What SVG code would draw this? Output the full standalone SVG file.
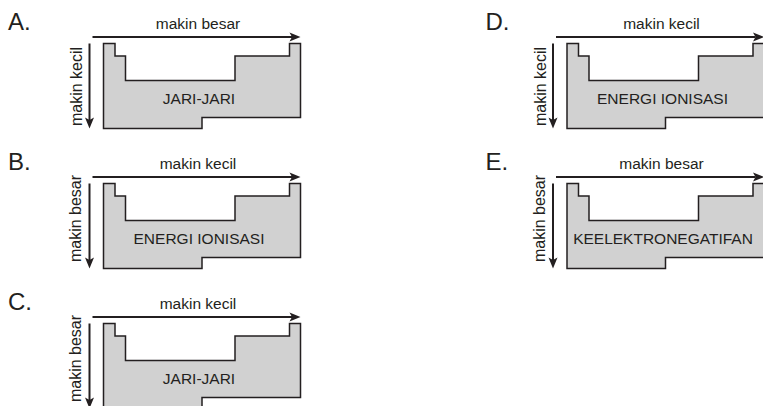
<svg xmlns="http://www.w3.org/2000/svg" xmlns:xlink="http://www.w3.org/1999/xlink" width="763" height="406" viewBox="0 0 763 406">
  <style>
    .table { fill: #d1d1d1; stroke: #231f20; stroke-width: 1.5; stroke-linejoin: miter; }
    .axis { stroke: #231f20; stroke-width: 2; fill: none; }
    .tag { font-family: "Liberation Sans", Arial, sans-serif; font-size: 24px; fill: #231f20; }
    .trend { font-family: "Liberation Sans", Arial, sans-serif; font-size: 15.5px; fill: #231f20; text-anchor: middle; }
    .side { font-family: "Liberation Sans", Arial, sans-serif; font-size: 16px; fill: #231f20; text-anchor: middle; }
    .prop { font-family: "Liberation Sans", Arial, sans-serif; font-size: 15.5px; fill: #231f20; text-anchor: middle; }
  </style>
  <defs>
    <marker id="head" markerUnits="userSpaceOnUse" markerWidth="11" markerHeight="9" refX="2.5" refY="4.5" orient="auto" overflow="visible">
      <path d="M0,0 L11,4.5 L0,9 L2.5,4.5 Z" fill="#231f20"/>
    </marker>
    <!-- outline of the periodic table block -->
    <path id="table" class="table" d="M103.5,43.5 H115 V56 H125.5 V80.5 H235 V56 H289.5 V43.5 H300.5 V117.5 H202 V128.5 H103.5 Z"/>
  </defs>

  <rect width="763" height="406" fill="#ffffff"/>

  <!-- A -->
  <g id="panel-a">
    <text class="tag" x="8" y="29.5">A.</text>
    <use xlink:href="#table"/>
    <text class="prop" x="199" y="104">JARI-JARI</text>
    <text class="trend" x="198" y="29">makin besar</text>
    <text class="side" transform="translate(82,86.5) rotate(-90)">makin kecil</text>
  </g>

  <!-- B -->
  <g id="panel-b" transform="translate(0,140)">
    <text class="tag" x="8" y="29.5">B.</text>
    <use xlink:href="#table"/>
    <text class="prop" x="199" y="104">ENERGI IONISASI</text>
    <text class="trend" x="198" y="29">makin kecil</text>
    <text class="side" transform="translate(81,78.5) rotate(-90)">makin besar</text>
  </g>

  <!-- C -->
  <g id="panel-c" transform="translate(0,280)">
    <text class="tag" x="8" y="29.5">C.</text>
    <use xlink:href="#table"/>
    <text class="prop" x="199" y="104">JARI-JARI</text>
    <text class="trend" x="198" y="29">makin kecil</text>
    <text class="side" transform="translate(81,78.5) rotate(-90)">makin besar</text>
  </g>

  <!-- D -->
  <g id="panel-d" transform="translate(463.5,0)">
    <text class="tag" x="22" y="29.5">D.</text>
    <use xlink:href="#table"/>
    <text class="prop" x="199" y="104">ENERGI IONISASI</text>
    <text class="trend" x="198" y="29">makin kecil</text>
    <text class="side" transform="translate(82,86.5) rotate(-90)">makin kecil</text>
  </g>

  <!-- E -->
  <g id="panel-e" transform="translate(463.5,140)">
    <text class="tag" x="22" y="29.5">E.</text>
    <use xlink:href="#table"/>
    <text class="prop" x="199.5" y="104">KEELEKTRONEGATIFAN</text>
    <text class="trend" x="198" y="29">makin besar</text>
    <text class="side" transform="translate(81,78.5) rotate(-90)">makin besar</text>
  </g>

  <!-- trend arrows -->
  <g id="connectors">
    <line class="axis" x1="92.5" y1="37" x2="292" y2="37" marker-end="url(#head)"/>
    <line class="axis" x1="89.5" y1="43.5" x2="89.5" y2="120" marker-end="url(#head)"/>
    <line class="axis" x1="92.5" y1="177" x2="292" y2="177" marker-end="url(#head)"/>
    <line class="axis" x1="89.5" y1="183.5" x2="89.5" y2="260" marker-end="url(#head)"/>
    <line class="axis" x1="92.5" y1="317" x2="292" y2="317" marker-end="url(#head)"/>
    <line class="axis" x1="89.5" y1="323.5" x2="89.5" y2="400" marker-end="url(#head)"/>
    <line class="axis" x1="556" y1="37" x2="755.5" y2="37" marker-end="url(#head)"/>
    <line class="axis" x1="553" y1="43.5" x2="553" y2="120" marker-end="url(#head)"/>
    <line class="axis" x1="556" y1="177" x2="755.5" y2="177" marker-end="url(#head)"/>
    <line class="axis" x1="553" y1="183.5" x2="553" y2="260" marker-end="url(#head)"/>
  </g>
</svg>
